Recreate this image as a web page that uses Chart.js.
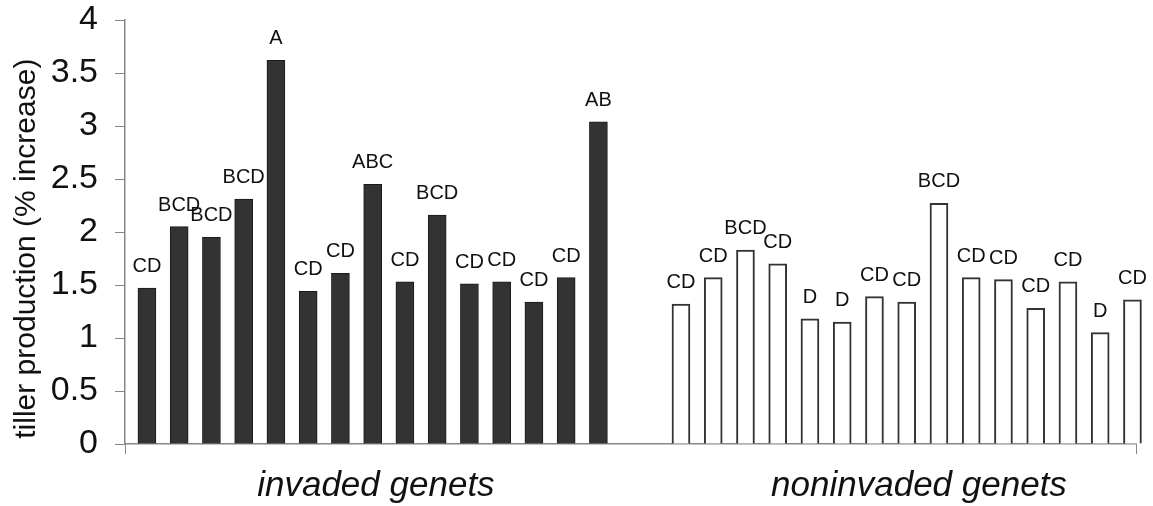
<!DOCTYPE html>
<html>
<head>
<meta charset="utf-8">
<script src="https://cdn.jsdelivr.net/npm/chart.js@4"></script>
<style>
  html, body { margin: 0; padding: 0; background: #fff; }
  #wrap { width: 1153px; height: 506px; }
</style>
</head>
<body>
<div id="wrap"><canvas id="tiller-chart"></canvas></div>
<script>
// values
const invadedValues = [1.47, 2.05, 1.95, 2.31, 3.62, 1.44, 1.61, 2.45, 1.53, 2.16, 1.51, 1.53, 1.34, 1.57, 3.04]
const invadedLetters = ['CD', 'BCD', 'BCD', 'BCD', 'A', 'CD', 'CD', 'ABC', 'CD', 'BCD', 'CD', 'CD', 'CD', 'CD', 'AB']

const noninvadedValues = [1.32, 1.57, 1.83, 1.70, 1.18, 1.15, 1.39, 1.34, 2.27, 1.57, 1.55, 1.28, 1.53, 1.05, 1.36]
const noninvadedLetters = ['CD', 'CD', 'BCD', 'CD', 'D', 'D', 'CD', 'CD', 'BCD', 'CD', 'CD', 'CD', 'CD', 'D', 'CD']

const groupLabels = ['invaded genets', 'noninvaded genets']
const yTicks = [0, 0.5, 1, 1.5, 2, 2.5, 3, 3.5, 4]

// layout on the x axis (in bar slots)
const secondGroupStart = 16.56
const xMin = -0.68
const xMax = 30.67
const groupLabelPos = [7.1, 23.94]

const axisGray = '#868686'
const fontFamily = '"Liberation Sans", Arial, sans-serif'

const invadedPoints = invadedValues.map((v, i) => ({ x: i, y: v }))
const noninvadedPoints = noninvadedValues.map((v, i) => ({ x: secondGroupStart + i, y: v }))

const letterPlugin = {
    id: 'letters',
    afterDatasetsDraw(chart) {
        const ctx = chart.ctx
        const letterSets = [invadedLetters, noninvadedLetters]
        ctx.save()
        ctx.font = '20px ' + fontFamily
        ctx.fillStyle = '#111'
        ctx.textAlign = 'center'
        ctx.textBaseline = 'alphabetic'
        chart.data.datasets.forEach((ds, d) => {
            const meta = chart.getDatasetMeta(d)
            meta.data.forEach((bar, i) => {
                ctx.fillText(letterSets[d][i], bar.x, bar.y - 16)
            })
        })
        ctx.restore()
    }
}

const data = {
    datasets: [{
        label: 'invaded',
        data: invadedPoints,
        backgroundColor: '#333333',
        borderColor: '#1a1a1a',
        borderWidth: 1,
        barThickness: 18,
        grouped: false,
        clip: false
    }, {
        label: 'noninvaded',
        data: noninvadedPoints,
        backgroundColor: '#ffffff',
        borderColor: '#333333',
        borderWidth: 2,
        barThickness: 18,
        grouped: false,
        clip: false
    }]
}

const config = {
    type: 'bar',
    data,
    options: {
        responsive: true,
        maintainAspectRatio: false,
        animation: false,
        layout: {
            padding: { top: 2, right: 17, bottom: 0, left: 0 }
        },
        plugins: {
            legend: { display: false },
            tooltip: { enabled: false }
        },
        scales: {
            x: {
                type: 'linear',
                min: xMin,
                max: xMax,
                offset: false,
                afterBuildTicks: (scale) => {
                    scale.ticks = [xMin, ...groupLabelPos, xMax].map(v => ({ value: v }))
                },
                afterFit: (scale) => {
                    scale.height = 62
                    scale.paddingLeft = 0
                    scale.paddingRight = 0
                },
                grid: {
                    offset: false,
                    drawOnChartArea: false,
                    tickLength: 10,
                    color: (c) => (c.index === 0 || c.index === 3) ? axisGray : 'rgba(0,0,0,0)'
                },
                border: { color: axisGray, width: 1.5 },
                ticks: {
                    autoSkip: false,
                    maxRotation: 0,
                    padding: 12,
                    color: '#111',
                    font: { family: fontFamily, size: 35, style: 'italic', lineHeight: 1.15 },
                    callback: (value, index) => (index === 1 || index === 2) ? groupLabels[index - 1] : ''
                }
            },
            y: {
                min: 0,
                max: 4,
                afterBuildTicks: (scale) => {
                    scale.ticks = yTicks.map(v => ({ value: v }))
                },
                afterFit: (scale) => {
                    scale.width = 125
                    scale.paddingTop = 20
                    scale.paddingBottom = 0
                },
                grid: {
                    drawOnChartArea: false,
                    tickLength: 10,
                    color: axisGray
                },
                border: { color: axisGray, width: 1.5 },
                ticks: {
                    padding: 17,
                    color: '#111',
                    font: { family: fontFamily, size: 34 },
                    callback: (value) => String(value)
                },
                title: {
                    display: true,
                    // trailing spaces nudge the rotated title down a little, as in the figure
                    text: 'tiller production (% increase)    ',
                    color: '#111',
                    padding: { top: 9, bottom: 6 },
                    font: { family: fontFamily, size: 30 }
                }
            }
        }
    },
    plugins: [letterPlugin]
}

const tillerChart = new Chart(
    document.getElementById('tiller-chart').getContext('2d'),
    config
)
</script>
</body>
</html>
